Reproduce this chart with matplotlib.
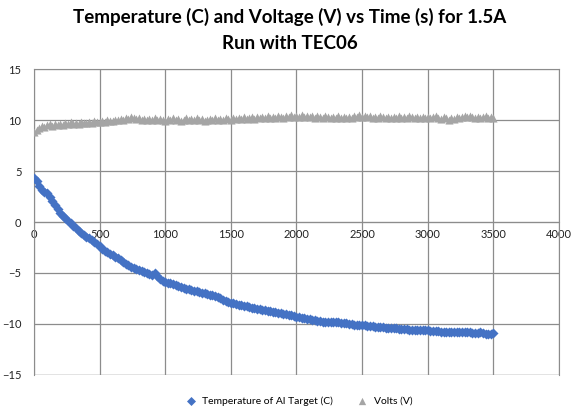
import numpy as np
import matplotlib
matplotlib.use("Agg")
import matplotlib.pyplot as plt

# sampled every 20 s, 0 .. 3500 s
temp_c = [
    4.3, 4.0, 3.5, 3.1, 2.9, 2.8, 2.5, 2.1, 1.7, 1.3,
    0.9, 0.6, 0.4, 0.1, -0.1, -0.4, -0.6, -0.9, -1.1, -1.3,
    -1.5, -1.6, -1.8, -2.0, -2.2, -2.4, -2.6, -2.8, -2.9, -3.1,
    -3.2, -3.4, -3.5, -3.7, -3.9, -4.1, -4.2, -4.4, -4.5, -4.6,
    -4.7, -4.8, -4.9, -5.0, -5.1, -5.2, -5.0, -5.3, -5.6, -5.8,
    -5.9, -6.0, -6.0, -6.1, -6.2, -6.3, -6.4, -6.5, -6.6, -6.6,
    -6.7, -6.8, -6.8, -6.9, -7.0, -7.0, -7.1, -7.2, -7.2, -7.3,
    -7.4, -7.5, -7.6, -7.7, -7.8, -7.9, -7.9, -8.0, -8.1, -8.1,
    -8.2, -8.2, -8.3, -8.4, -8.4, -8.5, -8.5, -8.6, -8.6, -8.7,
    -8.7, -8.8, -8.8, -8.9, -8.9, -9.0, -9.0, -9.1, -9.1, -9.2,
    -9.3, -9.3, -9.4, -9.4, -9.5, -9.5, -9.6, -9.6, -9.7, -9.7,
    -9.8, -9.8, -9.8, -9.8, -9.8, -9.8, -9.8, -9.9, -9.9, -9.9,
    -10.0, -10.0, -10.1, -10.1, -10.1, -10.1, -10.1, -10.2, -10.2, -10.2,
    -10.3, -10.3, -10.3, -10.3, -10.4, -10.4, -10.4, -10.4, -10.4, -10.5,
    -10.5, -10.5, -10.5, -10.6, -10.6, -10.6, -10.6, -10.6, -10.6, -10.6,
    -10.6, -10.7, -10.7, -10.7, -10.7, -10.8, -10.8, -10.8, -10.8, -10.8,
    -10.8, -10.8, -10.8, -10.8, -10.8, -10.8, -10.8, -10.9, -10.9, -10.9,
    -10.8, -10.9, -11.0, -11.0, -11.0, -10.9,
]

volts = [
    8.8, 9.0, 9.2, 9.4, 9.3, 9.5, 9.6, 9.4, 9.6, 9.5,
    9.6, 9.5, 9.7, 9.6, 9.8, 9.6, 9.7, 9.6, 9.8, 9.7,
    9.7, 9.8, 9.7, 9.9, 9.8, 9.8, 9.9, 9.8, 10.0, 9.9,
    9.9, 10.0, 10.0, 10.1, 10.0, 10.2, 10.1, 10.3, 10.2, 10.1,
    10.2, 10.0, 10.1, 10.0, 10.1, 10.0, 10.2, 10.0, 10.1, 10.0,
    9.9, 10.1, 10.0, 10.2, 10.0, 10.1, 9.9, 10.0, 10.2, 10.0,
    10.1, 10.0, 10.2, 10.0, 10.1, 9.9, 10.0, 10.1, 10.0, 10.2,
    10.0, 10.1, 10.0, 10.2, 10.1, 10.0, 10.2, 10.1, 10.2, 10.1,
    10.3, 10.1, 10.2, 10.3, 10.1, 10.3, 10.2, 10.3, 10.2, 10.4,
    10.2, 10.3, 10.2, 10.4, 10.3, 10.2, 10.4, 10.3, 10.5, 10.3,
    10.4, 10.3, 10.5, 10.3, 10.4, 10.3, 10.4, 10.2, 10.4, 10.3,
    10.2, 10.4, 10.3, 10.2, 10.3, 10.2, 10.4, 10.2, 10.3, 10.2,
    10.3, 10.2, 10.4, 10.3, 10.5, 10.3, 10.4, 10.3, 10.4, 10.2,
    10.3, 10.2, 10.4, 10.3, 10.2, 10.3, 10.2, 10.3, 10.2, 10.4,
    10.2, 10.3, 10.2, 10.4, 10.3, 10.2, 10.3, 10.2, 10.3, 10.2,
    10.3, 10.2, 10.3, 10.4, 10.2, 10.1, 10.3, 10.2, 10.0, 10.2,
    10.1, 10.3, 10.2, 10.3, 10.4, 10.3, 10.4, 10.3, 10.2, 10.3,
    10.2, 10.3, 10.4, 10.2, 10.3, 10.2,
]

time_s = np.arange(len(temp_c)) * 20

x_ticks = [0, 500, 1000, 1500, 2000, 2500, 3000, 3500, 4000]
y_ticks = [-15, -10, -5, 0, 5, 10, 15]

plt.rcParams['font.family'] = ['Lato', 'DejaVu Sans']

fig = plt.figure(figsize=(5.71, 4.11), dpi=100)
ax = fig.add_axes([0.0595, 0.0876, 0.9195, 0.7445])

grid_col = '#8c8c8c'
ax.scatter(time_s, temp_c, marker='D', s=26, color='#4472C4', linewidths=0,
           label='Temperature of Al Target (C)', zorder=3)
ax.scatter(time_s, volts, marker='^', s=34, color='#A5A5A5', linewidths=0,
           label='Volts (V)', zorder=3)

ax.set_xlim(0, 4000)
ax.set_ylim(-15, 15)
ax.set_xticks(x_ticks)
ax.set_yticks(y_ticks)
ax.grid(True, color=grid_col, linewidth=0.9)
ax.set_axisbelow(True)

for side in ['top', 'right', 'left']:
    ax.spines[side].set_color(grid_col)
ax.spines['bottom'].set_position(('data', 0))
ax.spines['bottom'].set_color(grid_col)
# border line at -15
ax.axhline(-15, color=grid_col, linewidth=0.9, zorder=1)

ax.tick_params(axis='both', length=0, labelsize=8, colors='#222222')
ax.tick_params(axis='y', pad=9)
ax.tick_params(axis='x', pad=5)

fig.suptitle("Temperature (C) and Voltage (V) vs Time (s) for 1.5A\nRun with TEC06",
             x=0.508, y=0.98, fontsize=13.5, fontweight='bold', linespacing=1.6)

ax.legend(loc='center', bbox_to_anchor=(0.5, -0.085), ncol=2, frameon=False,
          fontsize=7.5, handletextpad=0.1, columnspacing=1.8, markerscale=0.9)

fig.savefig('out.png', dpi=100)
